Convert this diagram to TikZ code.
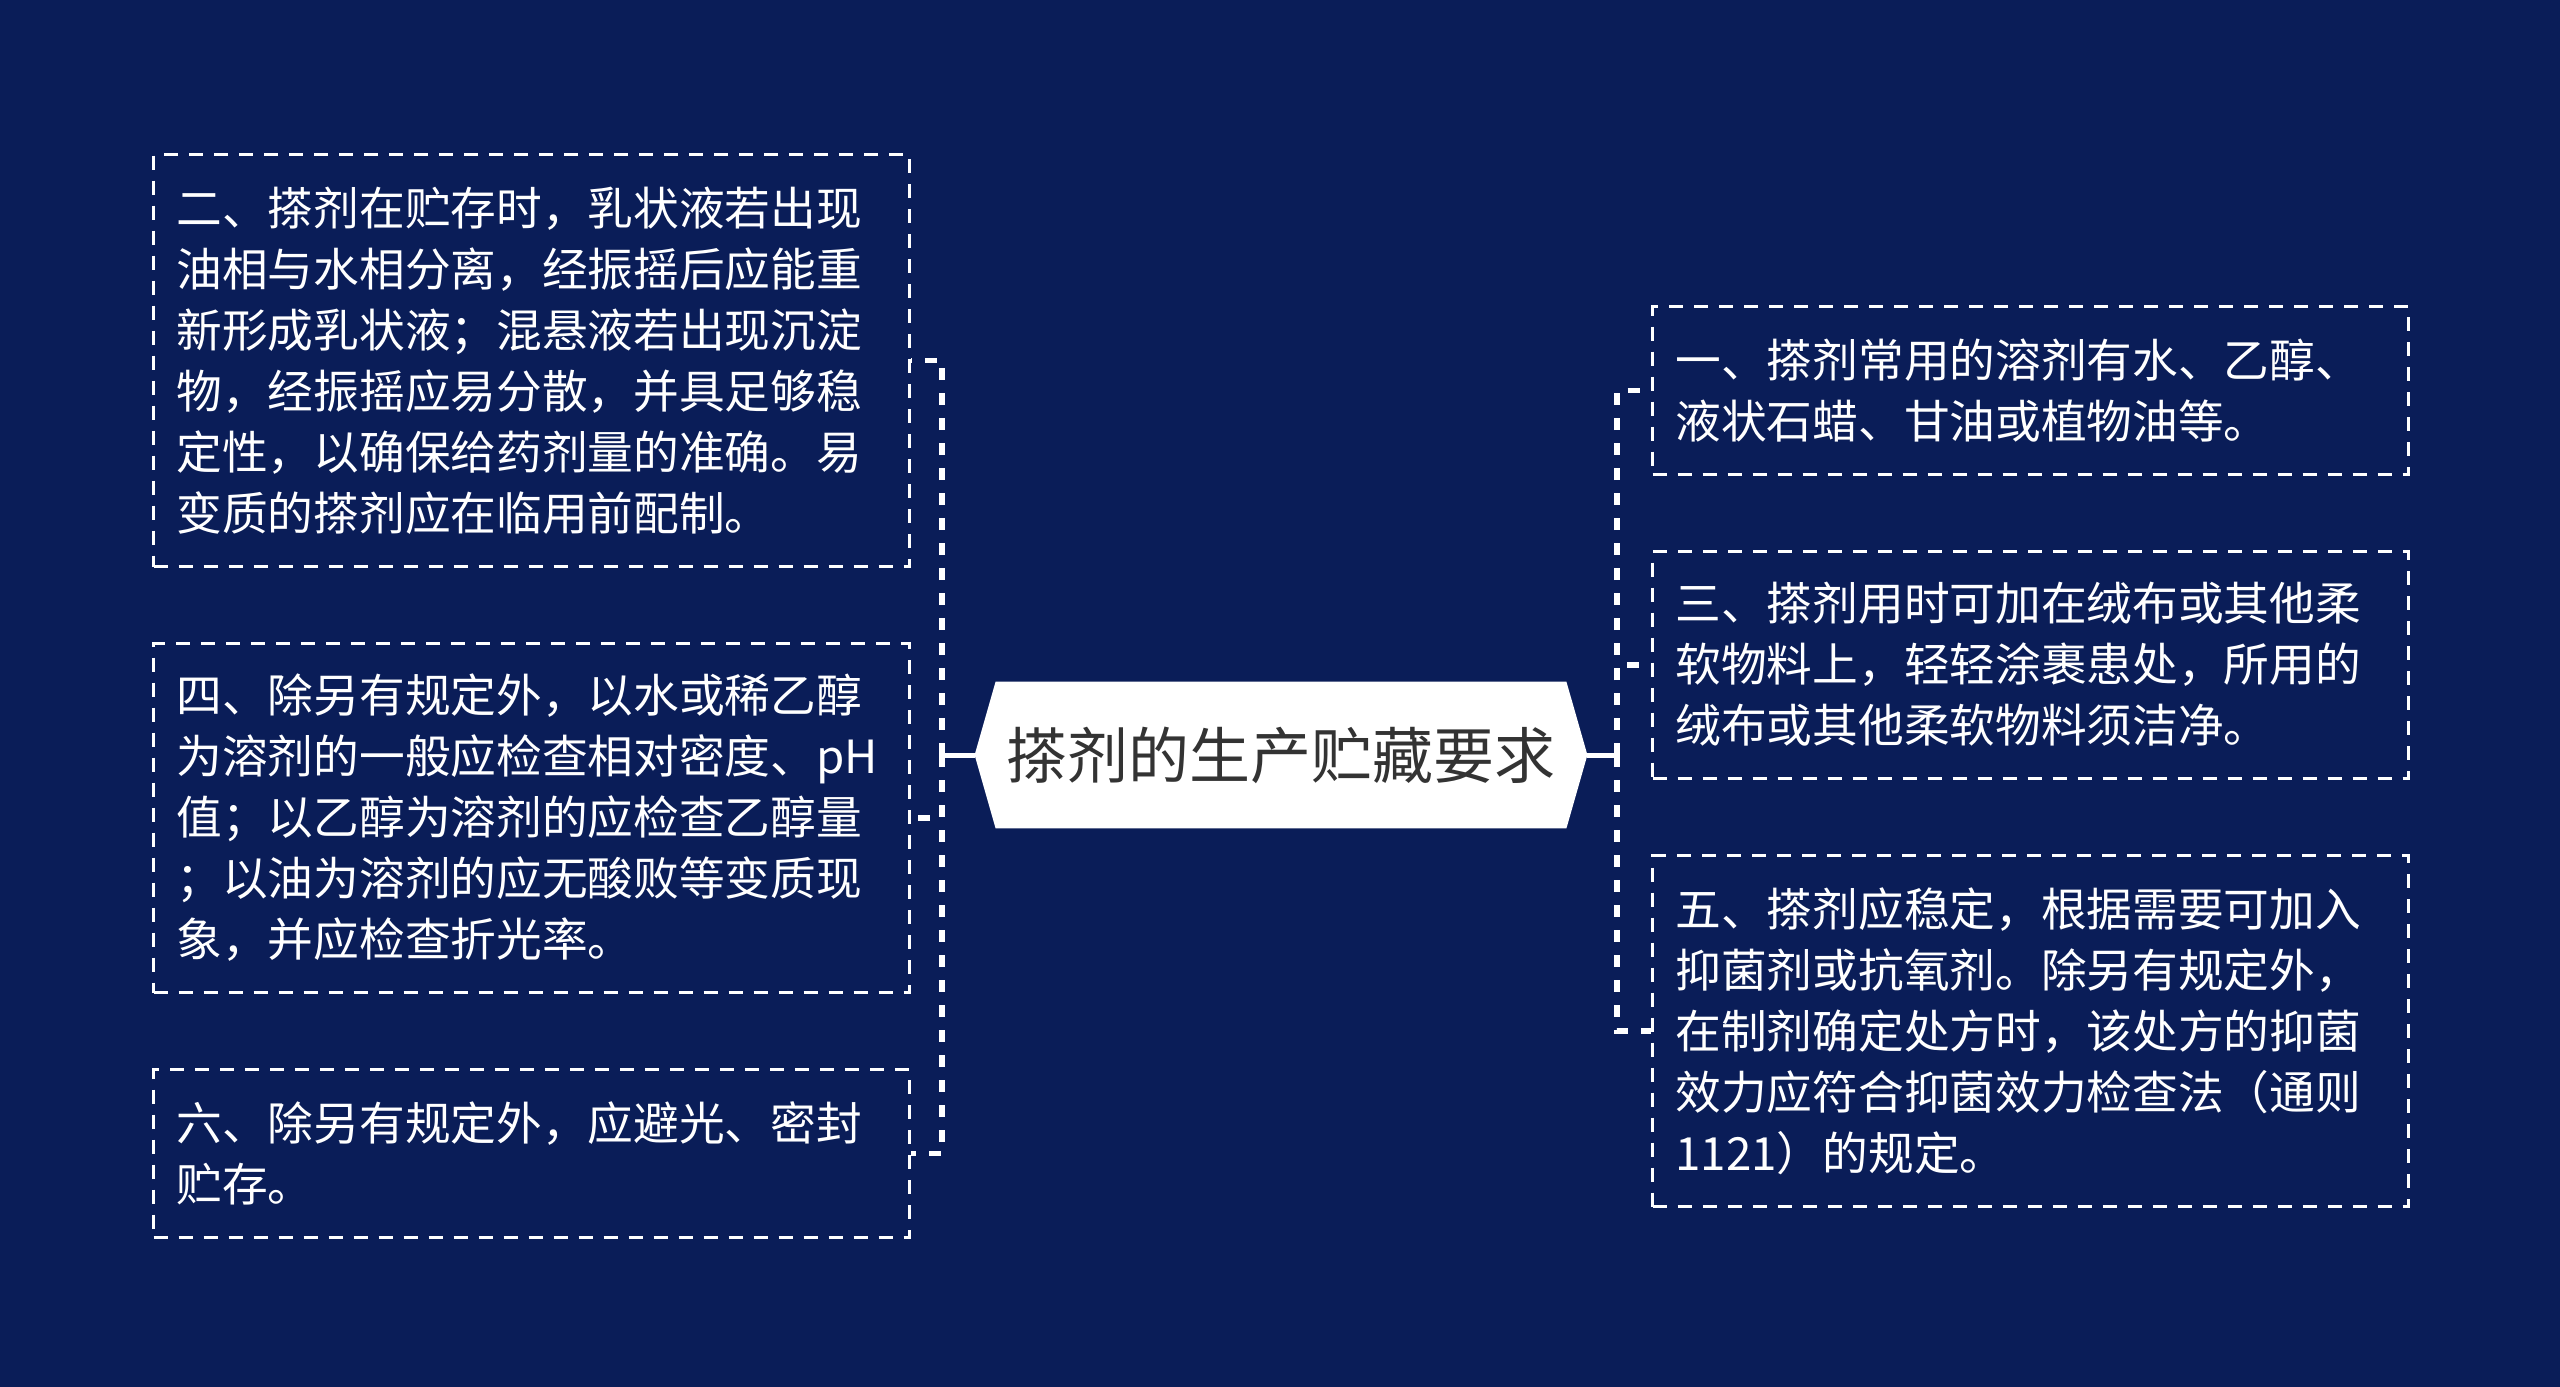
\documentclass[tikz,border=0pt]{standalone}
\usepackage{fontspec}
\setmainfont{Noto Sans CJK SC}
\usetikzlibrary{backgrounds}
\definecolor{bg}{RGB}{10,29,88}
\definecolor{hubtext}{RGB}{51,51,51}
\begin{document}
\begin{tikzpicture}[x=0.5pt,y=-0.5pt,
  box/.style={draw=white, line width=1.5pt, dash pattern=on 7pt off 5.5pt, text=white,
    font=\fontsize{22.85pt}{30.5pt}\selectfont, align=left, text width=355pt,
    inner xsep=11.5pt, inner ysep=0pt, anchor=north west},
  conn/.style={draw=white, line width=2.8pt, dash pattern=on 6pt off 6.5pt},
  solidline/.style={draw=white, line width=2.5pt}]
\useasboundingbox (0,0) rectangle (2560,1387);
% hub
\node[font=\fontsize{30.5pt}{36pt}\selectfont, text=hubtext, minimum width=306pt,
  minimum height=73pt, inner sep=0pt] (hub) at (1281,755) {搽剂的生产贮藏要求};
\begin{scope}[on background layer]
\fill[bg] (0,0) rectangle (2560,1387);
\fill[white] (hub.west) -- ([xshift=10.5pt]hub.north west) -- ([xshift=-10.5pt]hub.north east)
  -- (hub.east) -- ([xshift=-10.5pt]hub.south east) -- ([xshift=10.5pt]hub.south west) -- cycle;
\end{scope}
% left boxes
\node[box, minimum height=206pt] (b2) at (152,153) {二、搽剂在贮存时，乳状液若出现\\油相与水相分离，经振摇后应能重\\新形成乳状液；混悬液若出现沉淀\\物，经振摇应易分散，并具足够稳\\定性，以确保给药剂量的准确。易\\变质的搽剂应在临用前配制。};
\node[box, minimum height=174.5pt] (b4) at (152,642) {四、除另有规定外，以水或稀乙醇\\为溶剂的一般应检查相对密度、pH\\值；以乙醇为溶剂的应检查乙醇量\\；以油为溶剂的应无酸败等变质现\\象，并应检查折光率。};
\node[box, minimum height=84pt] (b6) at (152,1068) {六、除另有规定外，应避光、密封\\贮存。};
% right boxes
\node[box, minimum height=84pt] (b1) at (1651,305) {一、搽剂常用的溶剂有水、乙醇、\\液状石蜡、甘油或植物油等。};
\node[box, minimum height=113.5pt] (b3) at (1651,550) {三、搽剂用时可加在绒布或其他柔\\软物料上，轻轻涂裹患处，所用的\\绒布或其他柔软物料须洁净。};
\node[box, minimum height=175.5pt] (b5) at (1651,854) {五、搽剂应稳定，根据需要可加入\\抑菌剂或抗氧剂。除另有规定外，\\在制剂确定处方时，该处方的抑菌\\效力应符合抑菌效力检查法（通则\\1121）的规定。};
% connectors
\coordinate (jl) at (942,755);
\coordinate (jr) at (1617,755);
\draw[solidline] (hub.west) -- (jl);
\draw[solidline] (hub.east) -- (jr);
\draw[conn] (jl) |- (b2.east);
\draw[conn] (jl) |- (b4.east);
\draw[conn] (jl) |- (b6.east);
\draw[conn] (jr) |- (b1.west);
\draw[conn] (jr) |- (b3.west);
\draw[conn] (jr) |- (b5.west);
\end{tikzpicture}
\end{document}
